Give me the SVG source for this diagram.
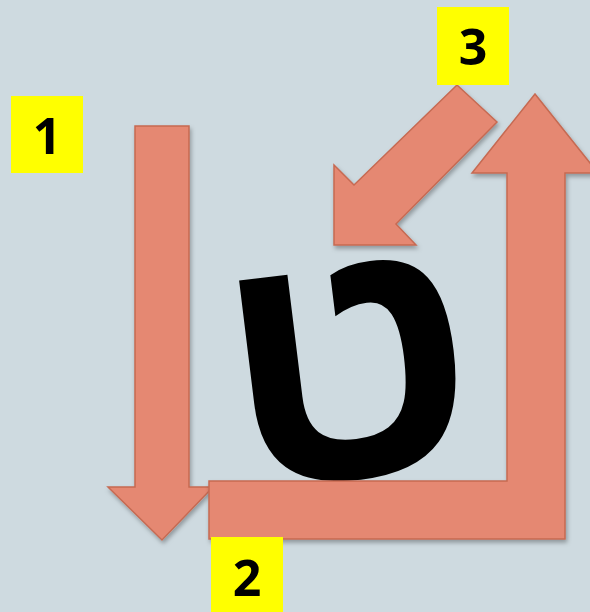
<svg xmlns="http://www.w3.org/2000/svg" width="590" height="612" viewBox="0 0 590 612">
<defs>
<style>
.arr{fill:#E58872;stroke:#C66A52;stroke-width:1.5;stroke-linejoin:miter;filter:url(#sh)}
.lbl{fill:#FFFF00}
.num{font-family:"Open Sans","Noto Sans",sans-serif;font-weight:bold;font-size:50px;fill:#000;text-anchor:middle}
</style>
<filter id="sh" x="-20%" y="-20%" width="140%" height="140%">
<feDropShadow dx="1.5" dy="3" stdDeviation="2" flood-color="#000" flood-opacity="0.3"/>
</filter>
</defs>
<rect width="590" height="612" fill="#CEDAE0"/>
<g id="letter">
<text x="0" y="109" transform="translate(348 368) rotate(-7) scale(1.07 1)" font-family="'Liberation Sans','DejaVu Sans',sans-serif" font-weight="bold" font-size="345" text-anchor="middle" fill="#000">ט</text>
</g>
<g id="connectors">
<polygon id="arrow1" class="arr" points="135,126 189,126 189,487 213,487 162,540 108,487 135,487"/>
<polygon id="arrow2" class="arr" points="209,481 507,481 507,173 472,173 535,94 598,173 565,173 565,539 209,539"/>
<polygon id="arrow3" class="arr" points="457,85 497,122 396,224 416,245 334,245 334,165 354,185"/>
</g>
<g id="label1"><rect class="lbl" x="11" y="96" width="72" height="77"/><text class="num" x="47" y="154">1</text></g>
<g id="label3"><rect class="lbl" x="437" y="7" width="72" height="78"/><text class="num" x="473" y="65">3</text></g>
<g id="label2"><rect class="lbl" x="211" y="537" width="72" height="75"/><text class="num" x="247" y="596">2</text></g>
</svg>
